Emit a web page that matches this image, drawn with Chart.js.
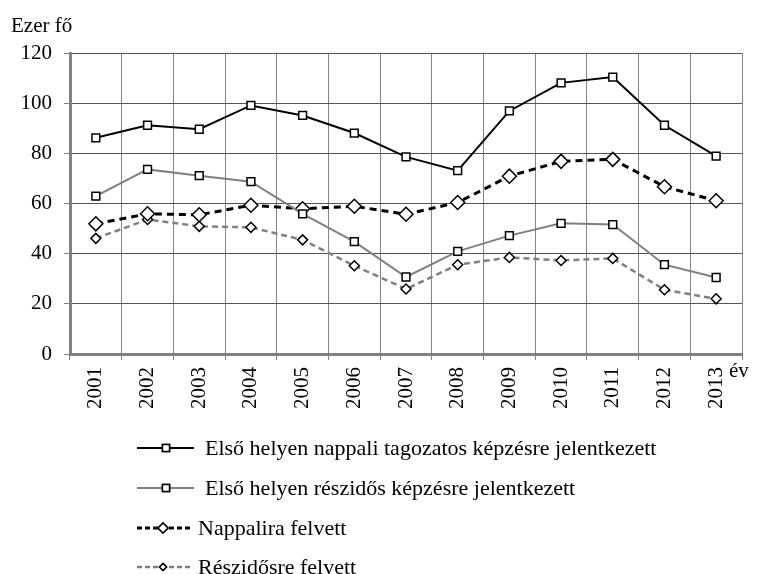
<!DOCTYPE html>
<html>
<head>
<meta charset="utf-8">
<script src="https://cdn.jsdelivr.net/npm/chart.js@4/dist/chart.umd.min.js"></script>
<style>
html, body { margin: 0; padding: 0; background: #fff; }
</style>
</head>
<body>
<canvas id="chart" width="759" height="574"></canvas>
<script>
// years on the x axis
var years = ['2001', '2002', '2003', '2004', '2005', '2006', '2007', '2008', '2009', '2010', '2011', '2012', '2013'];

// thousand people (Ezer fő)
var nappaliJelentkezett = [86.2, 91.2, 89.6, 99.1, 95.1, 88.1, 78.6, 73.1, 96.9, 108.1, 110.4, 91.2, 78.9];
var reszidosJelentkezett = [62.9, 73.6, 71.1, 68.7, 55.9, 44.8, 30.7, 40.9, 47.2, 52.1, 51.6, 35.6, 30.5];
var nappaliFelvett = [51.9, 55.9, 55.5, 59.3, 57.9, 58.9, 55.7, 60.4, 70.9, 76.8, 77.6, 66.7, 61.1];
var reszidosFelvett = [46.1, 53.6, 50.9, 50.5, 45.5, 35.2, 25.9, 35.6, 38.5, 37.3, 38.1, 25.6, 22.0];

var seriesLabels = [
	'Első helyen nappali tagozatos képzésre jelentkezett',
	'Első helyen részidős képzésre jelentkezett',
	'Nappalira felvett',
	'Részidősre felvett'
];

var yTicks = [0, 20, 40, 60, 80, 100, 120];

var serif = "'Liberation Serif', 'Times New Roman', serif";

// legend in the bottom part, plus the unit and "év" text
var extraText = {
	id: 'extraText',
	afterDraw: function (chart) {
		var ctx = chart.ctx;
		ctx.save();
		ctx.fillStyle = '#000';
		ctx.font = '21px ' + serif;
		ctx.textBaseline = 'alphabetic';
		ctx.textAlign = 'left';
		ctx.fillText('Ezer fő', 11, 32);
		ctx.fillText('év', 729, 377);

		ctx.font = '22px ' + serif;
		var rowY = [448, 488, 528, 567];
		var lineEnd = [194, 194, 192, 192];
		var markX = [166, 166, 163, 163];
		var textX = [205, 205, 198, 198];
		var markR = [5, 5, 5, 3.5];
		chart.data.datasets.forEach(function (ds, i) {
			var y = rowY[i];
			ctx.save();
			ctx.strokeStyle = ds.borderColor;
			ctx.lineWidth = ds.borderWidth;
			ctx.setLineDash(i > 1 ? [5, 3] : []);
			ctx.beginPath();
			ctx.moveTo(137, y);
			ctx.lineTo(lineEnd[i], y);
			ctx.stroke();
			ctx.setLineDash([]);
			ctx.fillStyle = '#fff';
			ctx.strokeStyle = '#000';
			ctx.lineWidth = 1.5;
			Chart.helpers.drawPoint(ctx, { pointStyle: ds.pointStyle, radius: markR[i], rotation: 0, borderWidth: 1.5 }, markX[i], y);
			ctx.fill();
			ctx.stroke();
			ctx.restore();
			ctx.fillStyle = '#000';
			ctx.textBaseline = 'middle';
			ctx.fillText(ds.label, textX[i], y + 1);
		});
		ctx.restore();
	}
};

var ctx = document.getElementById('chart');
var chart = new Chart(ctx, {
	type: 'line',
	data: {
		labels: years,
		datasets: [{
			label: seriesLabels[0],
			data: nappaliJelentkezett,
			borderColor: '#000',
			borderWidth: 2,
			pointStyle: 'rect',
			pointRadius: 5.5,
			pointBackgroundColor: '#fff',
			pointBorderColor: '#000',
			pointBorderWidth: 1.5
		}, {
			label: seriesLabels[1],
			data: reszidosJelentkezett,
			borderColor: '#808080',
			borderWidth: 2,
			pointStyle: 'rect',
			pointRadius: 5.5,
			pointBackgroundColor: '#fff',
			pointBorderColor: '#000',
			pointBorderWidth: 1.5
		}, {
			label: seriesLabels[2],
			data: nappaliFelvett,
			borderColor: '#000',
			borderWidth: 3,
			borderDash: [7, 5],
			pointStyle: 'rectRot',
			pointRadius: 7,
			pointBackgroundColor: '#fff',
			pointBorderColor: '#000',
			pointBorderWidth: 1.5
		}, {
			label: seriesLabels[3],
			data: reszidosFelvett,
			borderColor: '#808080',
			borderWidth: 2.5,
			borderDash: [6, 4],
			pointStyle: 'rectRot',
			pointRadius: 5,
			pointBackgroundColor: '#fff',
			pointBorderColor: '#000',
			pointBorderWidth: 1.5
		}]
	},
	options: {
		responsive: false,
		animation: false,
		devicePixelRatio: 1,
		lineTension: 0,
		layout: {
			padding: { top: 53, right: 17, left: 0, bottom: 0 }
		},
		plugins: {
			legend: { display: false },
			tooltip: { enabled: false }
		},
		scales: {
			x: {
				offset: true,
				grid: { offset: true, color: '#858585', tickColor: '#808080', tickLength: 6 },
				border: { color: '#808080', width: 3 },
				ticks: {
					minRotation: 90,
					maxRotation: 90,
					padding: 7,
					color: '#000',
					font: { family: serif, size: 21 }
				},
				afterFit: function (s) { s.height = 220; }
			},
			y: {
				min: 0,
				max: 120,
				afterBuildTicks: function (s) {
					s.ticks = yTicks.map(function (v) { return { value: v }; });
				},
				grid: { color: '#555', tickColor: '#808080', tickLength: 6 },
				border: { color: '#808080', width: 3 },
				ticks: {
					padding: 12,
					color: '#000',
					font: { family: serif, size: 21 }
				},
				afterFit: function (s) { s.width = 70; }
			}
		}
	},
	plugins: [extraText]
});
</script>
</body>
</html>
